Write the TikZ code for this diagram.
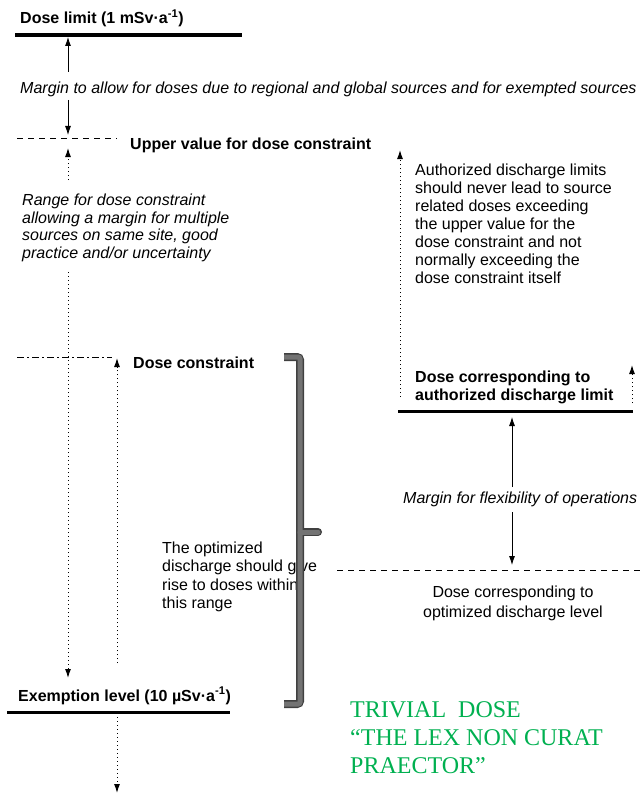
\documentclass[tikz,border=0pt]{standalone}
\usepackage{fontspec}
\setmainfont{Liberation Sans}
\newfontfamily\serifgreen{Liberation Serif}
\usetikzlibrary{arrows.meta}
\definecolor{trivgreen}{RGB}{0,176,80}
\begin{document}
\begin{tikzpicture}[x=1pt,y=-1pt,
  % multi-line nodes: the base anchor sits on the LAST line's baseline
  txt/.style={inner sep=0pt, anchor=base west, align=left,
              font=\fontsize{16}{18}\selectfont},
  boldtxt/.style={txt, font=\fontsize{16}{18}\selectfont\bfseries},
  itxt/.style={txt, font=\fontsize{16}{18}\selectfont\itshape},
  level/.style={line width=3pt},
  dashlevel/.style={line width=1pt, dash pattern=on 6pt off 5pt},
  dashdotlevel/.style={line width=1pt, dash pattern=on 7pt off 3pt on 2pt off 3pt},
  tip/.style={-{Latex[length=9pt,width=6pt]}},
  solidarrow/.style={tip, line width=0.8pt},
  dotarrow/.style={tip, line width=1pt, dash pattern=on 1pt off 3pt},
  bracketdark/.style={line width=8pt, black!75, rounded corners=3pt},
  bracketlight/.style={line width=5pt, black!55, rounded corners=2pt},
  trivial/.style={inner sep=0pt, anchor=base west, align=left, text=trivgreen,
                  font=\serifgreen\fontsize{24}{28}\selectfont},
]
\useasboundingbox (0,0) rectangle (642,797);

% ---- reference levels -------------------------------------------------
\coordinate (dlA) at (15,35);   \coordinate (dlB) at (242,35);
\coordinate (uvA) at (17,138);  \coordinate (uvB) at (117,138);
\coordinate (dcA) at (17,357);  \coordinate (dcB) at (112,357);
\coordinate (exA) at (7,712);   \coordinate (exB) at (230,712);
\coordinate (adA) at (398,411); \coordinate (adB) at (633,411);
\coordinate (odA) at (337,570); \coordinate (odB) at (642,570);

\draw[level, line width=3.5pt] (dlA) -- (dlB);
\draw[dashlevel] (uvA) -- (uvB);
\draw[dashdotlevel] (dcA) -- (dcB);
\draw[level] (exA) -- (exB);
\draw[level] (adA) -- (adB);
\draw[dashlevel] (odA) -- (odB);

% ---- labels -------------------------------------------------------------
\node[boldtxt] (doselimit) at (20,24) {Dose limit (1 mSv·a\textsuperscript{-1})};
\node[itxt] (margin) at (20,94) {Margin to allow for doses due to regional and global sources and for exempted sources};
\node[boldtxt] (upper) at (130,149) {Upper value for dose constraint};
\node[itxt, font=\fontsize{16}{17.4}\selectfont\itshape] (range) at (22,258)
  {Range for dose constraint\\allowing a margin for multiple\\sources on same site, good\\practice and/or uncertainty};
\node[boldtxt] (constraint) at (133,368) {Dose constraint};
\node[txt, font=\fontsize{16}{18.5}\selectfont] (optim) at (162,608.5)
  {The optimized\\discharge should give\\rise to doses within\\this range};
\node[boldtxt] (exempt) at (18,701) {Exemption level (10 µSv·a\textsuperscript{-1})};
\node[txt] (authtext) at (415,283)
  {Authorized discharge limits\\should never lead to source\\related doses exceeding\\the upper value for the\\dose constraint and not\\normally exceeding the\\dose constraint itself};
\node[boldtxt] (authlimit) at (415,400) {Dose corresponding to\\authorized discharge limit};
\node[itxt] (flex) at (403,503) {Margin for flexibility of operations};
\node[txt, anchor=base, align=center, font=\fontsize{16}{20}\selectfont] (optlevel) at (513,617)
  {Dose corresponding to\\optimized discharge level};
\node[trivial] (trivialdose) at (350,773)
  {TRIVIAL\ \ DOSE\\“THE LEX NON CURAT\\PRAECTOR”};

% ---- arrow end points ---------------------------------------------------
\coordinate (mUp0) at (68,72);   \coordinate (mUp1) at (68,37);
\coordinate (mDn0) at (68,100);  \coordinate (mDn1) at (68,135);
\coordinate (rUp0) at (68,180);  \coordinate (rUp1) at (68,148);
\coordinate (rDn0) at (68,272);  \coordinate (rDn1) at (68,678);
\coordinate (cUp0) at (117,663); \coordinate (cUp1) at (117,358);
\coordinate (eDn0) at (117,717); \coordinate (eDn1) at (117,793);
\coordinate (aUp0) at (400,397); \coordinate (aUp1) at (400,150);
\coordinate (lUp0) at (632,403); \coordinate (lUp1) at (632,365);
\coordinate (fUp0) at (512,487); \coordinate (fUp1) at (512,417);
\coordinate (fDn0) at (512,512); \coordinate (fDn1) at (512,565);

% ---- arrows -------------------------------------------------------------
\draw[solidarrow] (mUp0) -- (mUp1);
\draw[solidarrow] (mDn0) -- (mDn1);
\draw[dotarrow] (rUp0) -- (rUp1);
\draw[dotarrow] (rDn0) -- (rDn1);
\draw[dotarrow] (cUp0) -- (cUp1);
\draw[dotarrow] (eDn0) -- (eDn1);
\draw[dotarrow] (aUp0) -- (aUp1);
\draw[dotarrow] (lUp0) -- (lUp1);
\draw[solidarrow] (fUp0) -- (fUp1);
\draw[solidarrow] (fDn0) -- (fDn1);

% ---- range bracket ------------------------------------------------------
\coordinate (brTop) at (284,357);
\coordinate (brBot) at (284,704);
\coordinate (brMid) at (300,532);
\coordinate (brTip) at (318,532);
\foreach \s in {bracketdark, bracketlight}{
  \draw[\s] (brTop) -- (300,357) -- (300,704) -- (brBot);
  \draw[\s, line cap=round] (brMid) -- (brTip);
}
\end{tikzpicture}
\end{document}
